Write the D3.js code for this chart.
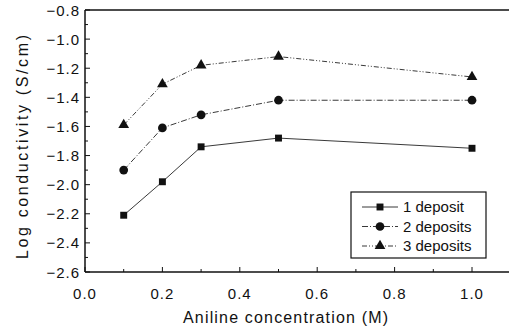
<!DOCTYPE html>
<html>
<head>
<meta charset="utf-8">
<script src="https://cdn.jsdelivr.net/npm/d3@7"></script>
<style>
  body { margin: 0; background: #fff; }
  text { font-family: "Liberation Sans", Arial, sans-serif; fill: #111; }
</style>
</head>
<body>
<div id="chart"></div>
<script>
// aniline concentration (M)
const concentrations = [0.1, 0.2, 0.3, 0.5, 1.0];
const oneDeposit = [-2.21, -1.98, -1.74, -1.68, -1.75];
const twoDeposits = [-1.90, -1.61, -1.52, -1.42, -1.42];
const threeDeposits = [-1.59, -1.31, -1.18, -1.12, -1.26];
const seriesNames = ["1 deposit", "2 deposits", "3 deposits"];
const xTicks = [0.0, 0.2, 0.4, 0.6, 0.8, 1.0];
const yTicks = [-0.8, -1.0, -1.2, -1.4, -1.6, -1.8, -2.0, -2.2, -2.4, -2.6];

const W = 509, H = 328;

const svg = d3.select("#chart").append("svg")
  .attr("width", W).attr("height", H);

const x = d3.scaleLinear().domain([0, 1]).range([85, 472]);
const y = d3.scaleLinear().domain([-2.6, -0.8]).range([272, 10]);

const series = [
  { name: seriesNames[0], values: oneDeposit, symbol: d3.symbolSquare, size: 48, dash: null },
  { name: seriesNames[1], values: twoDeposits, symbol: d3.symbolCircle, size: 60, dash: "6,2,1,2" },
  { name: seriesNames[2], values: threeDeposits, symbol: d3.symbolTriangle, size: 50, dash: "5,2,1,2,1,2" }
];

// frame: left, bottom and top lines (no right side in the original)
svg.append("line").attr("x1", 85).attr("x2", 85).attr("y1", 10).attr("y2", 272)
  .attr("stroke", "#111").attr("stroke-width", 1.5);
svg.append("line").attr("x1", 85).attr("x2", W).attr("y1", 272).attr("y2", 272)
  .attr("stroke", "#111").attr("stroke-width", 1.5);
svg.append("line").attr("x1", 85).attr("x2", W).attr("y1", 10).attr("y2", 10)
  .attr("stroke", "#111").attr("stroke-width", 1.5);

// inward ticks, major + minor
const yMinor = d3.range(-2.5, -0.8, 0.2);
yTicks.forEach(v => {
  svg.append("line").attr("x1", 85).attr("x2", 90).attr("y1", y(v)).attr("y2", y(v)).attr("stroke", "#111");
  svg.append("text").attr("x", 80).attr("y", y(v) + 5.5).attr("text-anchor", "end")
    .style("font-size", "15px").style("letter-spacing", "1px")
    .text(d3.format(".1f")(v));
});
yMinor.forEach(v => {
  svg.append("line").attr("x1", 85).attr("x2", 88).attr("y1", y(v)).attr("y2", y(v)).attr("stroke", "#111");
});
const xMinor = [0.1, 0.3, 0.5, 0.7, 0.9, 1.1];
xTicks.forEach(v => {
  svg.append("line").attr("x1", x(v)).attr("x2", x(v)).attr("y1", 272).attr("y2", 267).attr("stroke", "#111");
  svg.append("text").attr("x", x(v)).attr("y", 299).attr("text-anchor", "middle")
    .style("font-size", "15px").style("letter-spacing", "1px").text(d3.format(".1f")(v));
});
xMinor.forEach(v => {
  if (x(v) < W) svg.append("line").attr("x1", x(v)).attr("x2", x(v)).attr("y1", 272).attr("y2", 269).attr("stroke", "#111");
});

// axis titles
svg.append("text").attr("x", 183).attr("y", 323)
  .attr("textLength", 205).attr("lengthAdjust", "spacing")
  .style("font-size", "16px").text("Aniline concentration (M)");
svg.append("text").attr("transform", "translate(28,259) rotate(-90)")
  .attr("textLength", 224).attr("lengthAdjust", "spacing")
  .style("font-size", "16px").text("Log conductivity (S/cm)");

const line = d3.line().x((d, i) => x(concentrations[i])).y(d => y(d));

series.forEach(s => {
  svg.append("path").datum(s.values)
    .attr("d", line).attr("fill", "none").attr("stroke", "#222").attr("stroke-width", 0.9)
    .attr("stroke-dasharray", s.dash);
  svg.append("g").selectAll("path").data(s.values).enter().append("path")
    .attr("d", d3.symbol().type(s.symbol).size(s.size))
    .attr("transform", (d, i) => "translate(" + x(concentrations[i]) + "," + y(d) + ")")
    .attr("fill", "#111");
});

// legend
const lg = svg.append("g");
lg.append("rect").attr("x", 351).attr("y", 192).attr("width", 135).attr("height", 66)
  .attr("fill", "#fff").attr("stroke", "#111").attr("stroke-width", 1.2);
series.forEach((s, i) => {
  const ly = 207 + i * 19.5;
  lg.append("line").attr("x1", 362).attr("x2", 398).attr("y1", ly).attr("y2", ly)
    .attr("stroke", "#222").attr("stroke-width", 0.9).attr("stroke-dasharray", s.dash);
  lg.append("path").attr("d", d3.symbol().type(s.symbol).size(s.size))
    .attr("transform", "translate(380," + ly + ")").attr("fill", "#111");
  lg.append("text").attr("x", 403).attr("y", ly + 5).style("font-size", "15px").text(s.name);
});
</script>
</body>
</html>
